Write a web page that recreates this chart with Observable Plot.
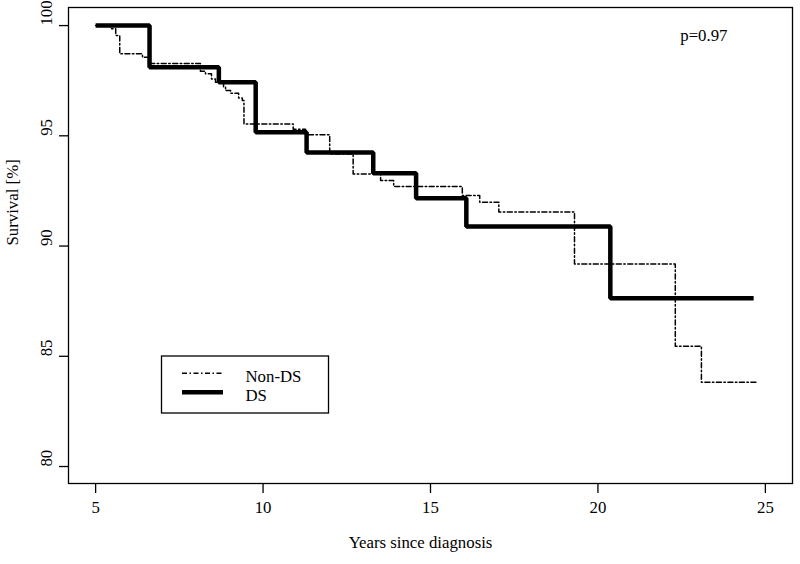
<!DOCTYPE html>
<html>
<head>
<meta charset="utf-8">
<script src="https://cdn.jsdelivr.net/npm/d3@7"></script>
<script src="https://cdn.jsdelivr.net/npm/@observablehq/plot@0.6"></script>
<style>
  html, body { margin: 0; padding: 0; background: #fff; }
  #chart { width: 800px; height: 564px; }
</style>
</head>
<body>
<div id="chart"></div>
<script>
// ---- data ----
const dsYears = [5, 6.61, 8.68, 9.78, 11.30, 13.29, 14.57, 16.07, 20.37, 24.65];
const dsSurv  = [100, 98.11, 97.43, 95.16, 94.24, 93.30, 92.17, 90.89, 87.63, 87.63];

const nonDsYears = [5, 5.45, 5.60, 5.72, 6.40, 6.58, 8.13, 8.28, 8.46, 8.58, 8.82, 8.88, 9.03, 9.27, 9.38, 9.43,
                    10.90, 11.27, 11.99, 12.69, 13.51, 13.90, 15.95, 16.47, 17.04, 19.30, 22.31, 23.09, 24.75];
const nonDsSurv  = [100, 99.86, 99.55, 98.72, 98.56, 98.28, 97.93, 97.81, 97.58, 97.43, 97.23, 97.05, 96.93, 96.72, 96.60, 95.54,
                    95.30, 95.05, 94.18, 93.27, 92.97, 92.70, 92.29, 91.99, 91.55, 89.19, 85.46, 83.82, 83.82];

const xTicks = [5, 10, 15, 20, 25];
const yTicks = [80, 85, 90, 95, 100];
const xTitle = "Years since diagnosis";
const yTitle = "Survival [%]";
const pLabel = "p=0.97";
const legendLabels = ["Non-DS", "DS"];

const ds = dsYears.map((x, i) => ({x, y: dsSurv[i]}));
const nonDs = nonDsYears.map((x, i) => ({x, y: nonDsSurv[i]}));

const dashDot = "5,2.5,1.5,2.5";
const font = "'Liberation Serif', 'Times New Roman', serif";

const chart = Plot.plot({
  width: 800,
  height: 564,
  marginLeft: 68,
  marginRight: 8,
  marginTop: 7,
  marginBottom: 81,
  style: {fontFamily: font, fontSize: "16.8px", background: "#fff", color: "#000"},
  x: {domain: [4.19, 25.81]},
  y: {domain: [79.23, 100.82]},
  marks: [
    Plot.axisX({ticks: xTicks, tickSize: 10, tickFormat: () => "", label: null, stroke: "#000", strokeWidth: 1.3}),
    Plot.axisY({ticks: yTicks, tickSize: 9, tickFormat: () => "", label: null, stroke: "#000", strokeWidth: 1.3}),
    Plot.text(xTicks, {x: d => d, text: d => String(d), frameAnchor: "bottom", dy: 29, fill: "#000"}),
    Plot.text(yTicks, {y: d => d, text: d => String(d), frameAnchor: "left", dx: -22, rotate: -90, fill: "#000"}),
    Plot.text([xTitle], {text: d => d, frameAnchor: "bottom", dx: -10, dy: 64, fill: "#000"}),
    Plot.text([yTitle], {text: d => d, frameAnchor: "left", dx: -56, rotate: -90, fill: "#000"}),
    Plot.text([pLabel], {text: d => d, frameAnchor: "top-right", dx: -65, dy: 22, fill: "#000"}),
    Plot.line(nonDs, {x: "x", y: "y", curve: "step-after", stroke: "#000", strokeWidth: 1.5, strokeDasharray: dashDot}),
    Plot.line(ds, {x: "x", y: "y", curve: "step-after", stroke: "#000", strokeWidth: 4.5, strokeLinejoin: "miter", strokeLinecap: "butt"}),
    Plot.frame({stroke: "#000", strokeWidth: 1.3})
  ]
});

document.getElementById("chart").appendChild(chart);

// ---- legend box (inside plot area, lower left) ----
const svg = d3.select(chart);
const lg = svg.append("g").attr("font-family", font).attr("font-size", "16.8px").attr("text-anchor", "start");
lg.append("rect").attr("x", 161.5).attr("y", 356).attr("width", 167).attr("height", 57)
  .attr("fill", "#fff").attr("stroke", "#000").attr("stroke-width", 1.3);
const styles = [
  {w: 1.5, dash: dashDot},
  {w: 4.5, dash: null}
];
legendLabels.forEach((lab, i) => {
  const yLine = 373.3 + i * 19;
  const l = lg.append("line").attr("x1", 182).attr("x2", 223).attr("y1", yLine).attr("y2", yLine)
    .attr("stroke", "#000").attr("stroke-width", styles[i].w);
  if (styles[i].dash) l.attr("stroke-dasharray", styles[i].dash);
  lg.append("text").attr("x", 245.5).attr("y", 382 + i * 19.3).attr("fill", "#000").text(lab);
});
</script>
</body>
</html>
